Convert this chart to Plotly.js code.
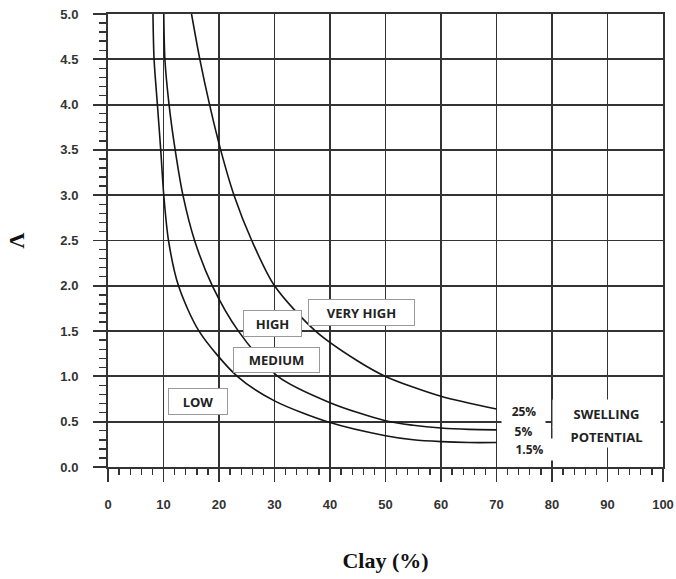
<!DOCTYPE html>
<html>
<head>
<meta charset="utf-8">
<script src="https://cdn.plot.ly/plotly-3.0.1.min.js"></script>
<style>html,body{margin:0;padding:0;background:#fff;}#chart{width:676px;height:579px;}</style>
</head>
<body>
<div id="chart"></div>
<script>
// Clay (%) and activity (Λ) for each swelling-potential curve
const clay15 = [8.1, 8.3, 8.9, 9.5, 10.05, 10.9, 12.7, 16.4, 23.3, 30, 40, 50, 55, 60, 65, 70];
const lam15  = [5.0, 4.5, 4.0, 3.5, 3.0, 2.5, 2.0, 1.5, 1.0, 0.73, 0.49, 0.345, 0.30, 0.28, 0.27, 0.27];

const clay5 = [10.05, 10.25, 11.0, 12.1, 13.5, 15.6, 18.8, 23.5, 30.6, 40, 50, 55, 60, 65, 70];
const lam5  = [5.0, 4.5, 4.0, 3.5, 3.0, 2.5, 2.0, 1.5, 1.0, 0.71, 0.51, 0.46, 0.43, 0.415, 0.41];

const clay25 = [15.05, 16.55, 18.3, 20.3, 22.7, 25.9, 30.0, 37.4, 45, 50, 60, 70];
const lam25  = [5.0, 4.5, 4.0, 3.5, 3.0, 2.5, 2.0, 1.5, 1.17, 1.0, 0.78, 0.64];

const curveNames = ['1.5%', '5%', '25%'];

// Region labels and their anchor positions (clay, Λ)
const regionLabels = ['LOW', 'MEDIUM', 'HIGH', 'VERY HIGH'];
const regionX = [16.25, 30.3, 29.6, 45.7];
const regionY = [0.72, 1.18, 1.58, 1.71];
const regionW = [58, 85, 57, 105];
const regionH = [25, 24, 25, 25];

const xTickVals = [0, 10, 20, 30, 40, 50, 60, 70, 80, 90, 100];
const yTickVals = [0.0, 0.5, 1.0, 1.5, 2.0, 2.5, 3.0, 3.5, 4.0, 4.5, 5.0];

const lineStyle = {color: '#161616', width: 1.6, shape: 'spline', smoothing: 0.8};
const traces = [
  {x: clay15, y: lam15, name: curveNames[0], mode: 'lines', line: lineStyle, hoverinfo: 'x+y+name'},
  {x: clay5,  y: lam5,  name: curveNames[1], mode: 'lines', line: lineStyle, hoverinfo: 'x+y+name'},
  {x: clay25, y: lam25, name: curveNames[2], mode: 'lines', line: lineStyle, hoverinfo: 'x+y+name'}
];

const boxFont = {family: '"Open Sans", "Liberation Sans", sans-serif', size: 13, color: '#222', weight: 'bold'};
const pctFont = {family: '"Open Sans", "Liberation Sans", sans-serif', size: 12, color: '#222', weight: 'bold'};

const annotations = regionLabels.map((t, i) => ({
  x: regionX[i], y: regionY[i], xref: 'x', yref: 'y', text: '<b>' + t + '</b>',
  showarrow: false, font: boxFont, bgcolor: '#ffffff', bordercolor: '#9a9a9a',
  borderwidth: 1, borderpad: 0, width: regionW[i], height: regionH[i], align: 'center'
}));

// curve end labels
annotations.push(
  {x: 75.0, y: 0.62, xref: 'x', yref: 'y', text: '<b>25%</b>', showarrow: false, font: pctFont,
   bgcolor: '#ffffff', width: 40, height: 16, borderpad: 0},
  {x: 74.9, y: 0.40, xref: 'x', yref: 'y', text: '<b>5%</b>', showarrow: false, font: pctFont,
   bgcolor: '#ffffff', width: 43, height: 22, borderpad: 0},
  {x: 76.0, y: 0.19, xref: 'x', yref: 'y', text: '<b>1.5%</b>', showarrow: false, font: pctFont,
   bgcolor: '#ffffff', width: 53, height: 21, borderpad: 0},
  {x: 89.9, y: 0.595, xref: 'x', yref: 'y', text: '<b>SWELLING</b>', showarrow: false, font: boxFont,
   bgcolor: '#ffffff', width: 107, height: 27, borderpad: 0},
  {x: 89.9, y: 0.335, xref: 'x', yref: 'y', text: '<b>POTENTIAL</b>', showarrow: false, font: boxFont,
   bgcolor: '#ffffff', width: 107, height: 20, borderpad: 0}
);

const tickFont = {family: '"Liberation Sans", Arial, sans-serif', size: 13, color: '#333', weight: 'bold'};

const layout = {
  width: 676, height: 579,
  margin: {l: 108, r: 13, t: 14, b: 112},
  paper_bgcolor: '#ffffff', plot_bgcolor: '#ffffff',
  showlegend: false,
  xaxis: {
    range: [0, 100], tickvals: xTickVals, ticktext: xTickVals.map(String),
    showgrid: true, gridcolor: '#333333', gridwidth: 1.8, zeroline: false,
    showline: true, linecolor: '#333', linewidth: 2, mirror: true,
    ticks: 'outside', ticklen: 13, tickwidth: 1.8, tickcolor: '#333333',
    tickfont: tickFont, ticklabelstandoff: 11,
    minor: {dtick: 2, ticks: 'outside', ticklen: 6, tickwidth: 1.4, tickcolor: '#333333', showgrid: false},
    title: {text: '<b>Clay (%)</b>', font: {family: '"Liberation Serif", "Times New Roman", serif', size: 22, color: '#111'}, standoff: 42}
  },
  yaxis: {
    range: [0, 5], tickvals: yTickVals, ticktext: yTickVals.map(v => v.toFixed(1)),
    showgrid: true, gridcolor: '#333333', gridwidth: 1.8, zeroline: false,
    showline: true, linecolor: '#333', linewidth: 2, mirror: true,
    ticks: 'outside', ticklen: 13, tickwidth: 1.8, tickcolor: '#333333',
    tickfont: tickFont, ticklabelstandoff: 12,
    minor: {dtick: 0.1, ticks: 'outside', ticklen: 7, tickwidth: 1.4, tickcolor: '#333333', showgrid: false},
    title: {text: '<b>Λ</b>', font: {family: '"Liberation Serif", "Times New Roman", serif', size: 22, color: '#111'}, standoff: 30}
  },
  annotations: annotations
};

Plotly.newPlot('chart', traces, layout, {displayModeBar: false, staticPlot: true});
</script>
</body>
</html>
